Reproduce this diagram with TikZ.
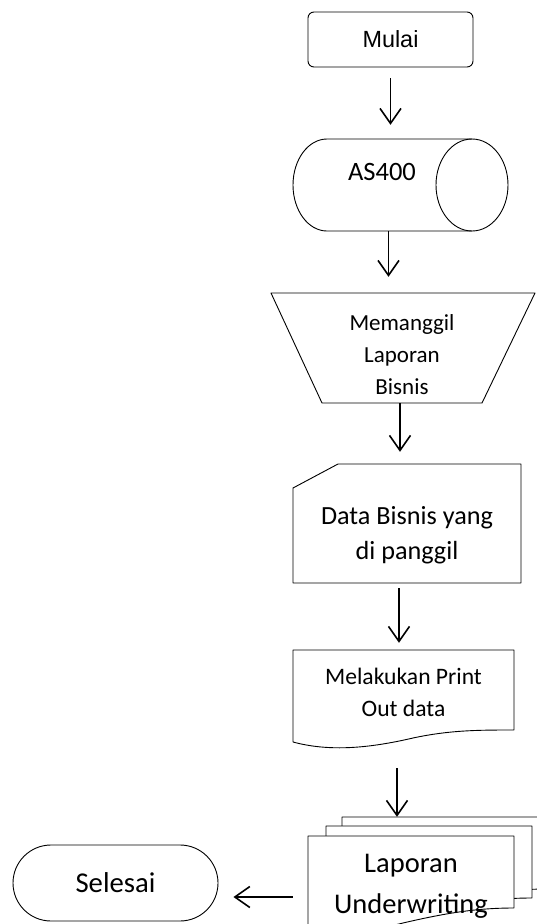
\documentclass[tikz,border=0pt]{standalone}
\usepackage{fontspec}
\setmainfont{Carlito}
\newfontfamily\arialfont{Liberation Sans}
\usetikzlibrary{shapes.misc,arrows.meta,backgrounds}

\begin{document}
\begin{tikzpicture}[x=1pt,y=-1pt]

  \tikzstyle{box}=[draw,line width=0.9pt,inner sep=0pt]
  \tikzstyle{txt}=[inner sep=0pt,align=center]
  \tikzstyle{outline}=[line width=0.9pt,line join=round]
  \tikzstyle{arr}=[line width=1.6pt,-{Straight Barb[length=15pt,width=21pt]}]

  \useasboundingbox (0,0) rectangle (536,924);

  \node[box,rectangle,rounded corners=6pt,minimum width=165pt,minimum height=55pt,
        font=\arialfont\fontsize{23.4}{28}\selectfont] (mulai) at (390.5,39.5) {Mulai};

  % silinder
  \node[txt,minimum width=215pt,minimum height=92pt] (as400) at (400.5,185) {};
  \draw[outline] (472,231) -- (327,231) arc[start angle=90,end angle=270,x radius=34,y radius=46] -- (472,139);
  \draw[outline] (472,185) ellipse[x radius=36,y radius=46];
  \node[txt,font=\fontsize{26.5}{32}\selectfont] (as400-txt) at (382,172) {AS400};

  % operasi manual
  \node[txt,minimum width=264pt,minimum height=110pt] (panggil) at (403,348) {};
  \draw[outline] (271,293) -- (535,293) -- (482,403) -- (322,403) -- cycle;
  \node[txt,font=\fontsize{23}{32}\selectfont] (panggil-txt) at (402,355) {Memanggil\\Laporan\\Bisnis};

  % kartu
  \node[txt,minimum width=228pt,minimum height=119pt] (data) at (407,523.5) {};
  \draw[outline] (293,488) -- (338,464) -- (521,464) -- (521,583) -- (293,583) -- cycle;
  \node[txt,font=\fontsize{26.2}{35}\selectfont] (data-txt) at (407,535.5) {Data Bisnis yang\\di panggil};

  % dokumen
  \node[txt,minimum width=221pt,minimum height=84pt,
        font=\fontsize{23.6}{32}\selectfont] (print) at (403.5,692) {Melakukan Print\\Out data};
  \draw[outline] (293,742) -- (293,650) -- (514,650) -- (514,730)
    .. controls (480,730) and (450,730) .. (413,738)
    .. controls (370,748) and (330,752) .. (293,742);

  % multi dokumen
  \node[txt,minimum width=206pt,minimum height=101pt,
        font=\fontsize{28.5}{41}\selectfont] (lapuw) at (411,886.5) {Laporan\\Underwriting};
  \begin{scope}[on background layer]
    \foreach \dx/\dy in {34/-19,18/-10,0/0}
      \draw[outline,fill=white,shift={(\dx,\dy)}] (308,933) -- (308,836) -- (514,836) -- (514,908)
        .. controls (480,908) and (450,912) .. (403,923)
        .. controls (370,931) and (335,938) .. (308,933) -- cycle;
  \end{scope}

  \node[box,rounded rectangle,minimum width=205pt,minimum height=76pt,
        font=\fontsize{28.7}{34}\selectfont] (selesai) at (115.5,883) {Selesai};

  \draw[arr,shorten <=11pt,shorten >=14pt] (mulai.south) -- (mulai.south |- as400.north);
  \draw[arr,shorten >=16pt] ([xshift=-12pt]as400.south) -- ([xshift=-12pt]as400.south |- panggil.north);
  \draw[arr,shorten >=12pt] ([xshift=-3pt]panggil.south) -- ([xshift=-3pt]panggil.south |- data.north);
  \draw[arr,shorten <=5pt,shorten >=7pt] ([xshift=-8pt]data.south) -- ([xshift=-8pt]data.south |- print.north);
  \draw[arr,shorten <=34pt] ([xshift=-6.5pt]print.south) -- ([xshift=-14pt,yshift=19pt]lapuw.north);
  \draw[arr,shorten <=15pt,shorten >=15pt] ([yshift=-10.5pt]lapuw.west) -- ([yshift=-10.5pt]lapuw.west -| selesai.east);

\end{tikzpicture}
\end{document}
